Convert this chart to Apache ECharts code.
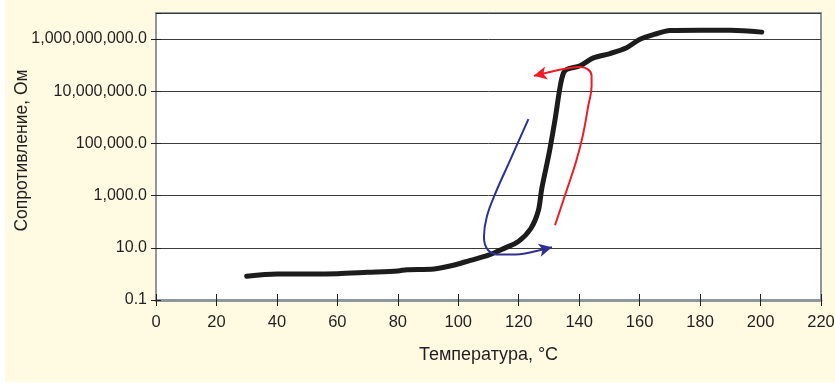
<!DOCTYPE html>
<html><head><meta charset="utf-8">
<script src="https://cdn.jsdelivr.net/npm/echarts@6/dist/echarts.min.js"></script>
<style>html,body{margin:0;padding:0;background:#fff}#c{width:835px;height:383px}</style>
</head><body><div id="c"></div>
<script>
// Black curve: temperature (°C) and resistance (Ohm)
const blackTemp = [30, 40, 50, 60, 70, 80, 83, 92, 98, 104, 110, 115, 120, 124, 126.5, 127.6, 129.3, 130.3, 132, 133.7, 134.8, 136, 140.3, 144.7, 150.2, 155.7, 160.1, 165.6, 170, 180, 190, 200.4];
const blackOhm  = [0.82, 1.0, 1.0, 1.02, 1.15, 1.3, 1.45, 1.55, 2.1, 3.3, 5.2, 9.3, 18, 55, 270, 1800, 1.6e4, 6e4, 8e5, 1.5e7, 5e7, 7e7, 9.5e7, 1.9e8, 2.8e8, 4.7e8, 9.8e8, 1.6e9, 2.15e9, 2.2e9, 2.2e9, 1.85e9];
// Red heating arrow
const redTemp = [132.0, 135.6, 138.9, 141.2, 143.0, 144.1, 144.1, 142.9, 140.3, 135.9, 130.3, 125.0];
const redOhm  = [73, 1300, 1.9e4, 2e5, 2.75e6, 1.6e7, 3.9e7, 6.9e7, 8.5e7, 7.4e7, 5.5e7, 3.9e7];
// Blue cooling arrow
const blueTemp = [123.2, 117.1, 112.2, 109.4, 108.5, 109.9, 113.8, 120.4, 125.9, 131.0];
const blueOhm  = [8.6e5, 2.2e4, 1170, 150, 26, 8.1, 5.5, 5.7, 7.6, 10.5];
// Axes
const xMin = 0, xMax = 220, xStep = 20;
const yMin = 0.1, yMax = 1e10;
const xTitle = 'Температура, °C';
const yTitle = 'Сопротивление, Ом';

const FONT = "'Liberation Sans', Arial, sans-serif";
const TXT = '#231f20';

function pairs(xs, ys, arrowRot) {
  return xs.map((x, i) => {
    const item = { value: [x, ys[i]] };
    if (arrowRot !== undefined && i === xs.length - 1) {
      item.symbol = 'arrow'; item.symbolSize = [10, 13]; item.symbolRotate = arrowRot;
    }
    return item;
  });
}
function fmtY(v) {
  return Number(v).toLocaleString('en-US', { minimumFractionDigits: 1, maximumFractionDigits: 1 });
}

const chart = echarts.init(document.getElementById('c'), null, { renderer: 'canvas' });
chart.setOption({
  animation: false,
  backgroundColor: '#ffffff',
  graphic: [{ type: 'rect', shape: { x: 5, y: 0, width: 830, height: 382 }, style: { fill: '#fffae1' }, z: -10, silent: true }],
  grid: { left: 156, right: 14, top: 13, bottom: 83, containLabel: false, outerBoundsMode: 'none',
          show: true, backgroundColor: '#ffffff', borderColor: '#8e979c', borderWidth: 2 },
  xAxis: [{
    type: 'value', min: xMin, max: xMax, interval: xStep,
    name: xTitle, nameLocation: 'middle', nameGap: 46, nameMoveOverlap: false,
    nameTextStyle: { fontFamily: FONT, fontSize: 18, color: TXT },
    axisLine: { show: true, lineStyle: { color: '#8e979c', width: 3 } },
    axisTick: { show: true, inside: false, length: 6, lineStyle: { color: TXT, width: 1 } },
    axisLabel: { fontFamily: FONT, fontSize: 16.5, color: TXT, margin: 14 },
    splitLine: { show: false }
  }, {
    type: 'value', min: xMin, max: xMax, interval: xStep, position: 'bottom',
    axisLine: { show: false }, axisLabel: { show: false }, splitLine: { show: false },
    axisTick: { show: true, inside: true, length: 6, lineStyle: { color: TXT, width: 1 } }
  }],
  yAxis: [{
    type: 'log', logBase: 10, min: yMin, max: yMax, interval: 2,
    name: yTitle, nameLocation: 'middle', nameGap: 125, nameMoveOverlap: false,
    nameTextStyle: { fontFamily: FONT, fontSize: 17.5, color: TXT, padding: [0, 0, 0, 12] },
    axisLine: { show: true, lineStyle: { color: '#8e979c', width: 2 } },
    axisTick: { show: true, inside: false, length: 5, lineStyle: { color: TXT, width: 1 } },
    axisLabel: { fontFamily: FONT, fontSize: 16, color: TXT, margin: 9, showMaxLabel: false, formatter: fmtY },
    splitLine: { show: true, lineStyle: { color: '#3a3a3a', width: 1 } }
  }, {
    type: 'log', logBase: 10, min: yMin, max: yMax, interval: 2, position: 'left',
    axisLine: { show: false }, axisLabel: { show: false }, splitLine: { show: false },
    axisTick: { show: true, inside: true, length: 5, lineStyle: { color: TXT, width: 1 } }
  }],
  series: [{
    type: 'line', xAxisIndex: 0, yAxisIndex: 0, data: pairs(blackTemp, blackOhm),
    smooth: 0.3, symbol: 'none', lineStyle: { color: '#1c1c1c', width: 5, cap: 'round', join: 'round' }, z: 3
  }, {
    type: 'line', xAxisIndex: 0, yAxisIndex: 0, data: pairs(redTemp, redOhm, 103),
    smooth: 0.4, symbol: 'none', showSymbol: true, itemStyle: { color: '#ee1c25' },
    lineStyle: { color: '#ee1c25', width: 2 }, z: 4
  }, {
    type: 'line', xAxisIndex: 0, yAxisIndex: 0, data: pairs(blueTemp, blueOhm, -77),
    smooth: 0.4, symbol: 'none', showSymbol: true, itemStyle: { color: '#2e3192' },
    lineStyle: { color: '#2e3192', width: 2 }, z: 4
  }]
});
</script></body></html>
